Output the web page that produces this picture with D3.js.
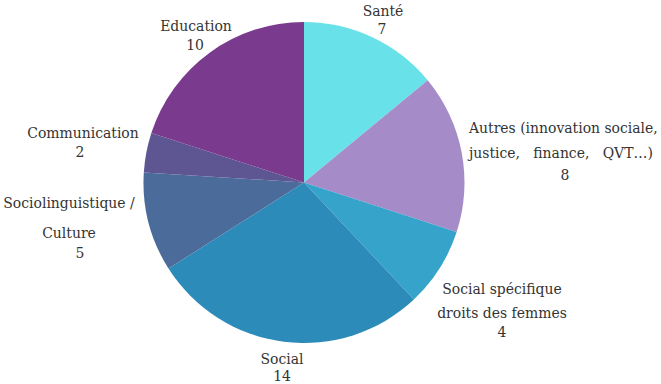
<!DOCTYPE html>
<html>
<head>
<meta charset="utf-8">
<script src="https://cdn.jsdelivr.net/npm/d3@7"></script>
<style>
  body { margin: 0; background: #fff; }
</style>
</head>
<body>
<div id="caja"></div>
<script>
// donnees du graphique
var categories = ["Santé", "Autres", "Social spécifique", "Social", "Sociolinguistique", "Communication", "Education"];
var valeurs    = [7, 8, 4, 14, 5, 2, 10];
var couleurs   = ["#68e2e8", "#a68bc9", "#35a3ca", "#2d8bb9", "#4b6c9b", "#5e5693", "#7a3a8e"];
// lignes des etiquettes (la valeur est ajoutee dessous)
var etiquettes = [
  ["Santé"],
  ["Autres (innovation sociale,", "justice,   finance,   QVT…)"],
  ["Social spécifique", "droits des femmes"],
  ["Social"],
  ["Sociolinguistique /", "Culture"],
  ["Communication"],
  ["Education"]
];

var w = 661, h = 384;
var cx = 304, cy = 182.5, r = 160.5;
var police = "DejaVu Serif";

// placement des etiquettes : x, y premiere ligne, interligne, ancrage, position valeur
var place = [
  {x: 383, y: 16,  dy: 24, anchor: "middle", vx: 382, vy: 34},
  {x: 469, y: 133, dy: 25, anchor: "start",  vx: 565, vy: 180},
  {x: 502, y: 294, dy: 24, anchor: "middle", vx: 502, vy: 337},
  {x: 282, y: 364, dy: 24, anchor: "middle", vx: 282, vy: 381},
  {x: 69,  y: 208, dy: 30, anchor: "middle", vx: 80,  vy: 258},
  {x: 83,  y: 138, dy: 24, anchor: "middle", vx: 80,  vy: 157},
  {x: 196, y: 31,  dy: 24, anchor: "middle", vx: 195, vy: 50}
];

var chart = d3.select('#caja')
  .append('svg')
  .attr('width', w)
  .attr('height', h);

var pie = d3.pie().sort(null).value(function(d) { return d; });
var arc = d3.arc().innerRadius(0).outerRadius(r);

var g = chart.append("g").attr("transform", "translate(" + cx + "," + cy + ")");

g.selectAll("path")
  .data(pie(valeurs))
  .enter()
  .append("path")
  .attr("d", arc)
  .style("fill", function(d, i) { return couleurs[i]; });

// textes
var lab = chart.append("g").selectAll("g")
  .data(categories)
  .enter()
  .append("g");

lab.each(function(c, i) {
  var p = place[i];
  var sel = d3.select(this);
  etiquettes[i].forEach(function(l, k) {
    sel.append("text")
      .attr("x", p.x)
      .attr("y", p.y + k * p.dy)
      .attr("text-anchor", p.anchor)
      .attr("font-family", police)
      .attr("font-size", 15.5)
      .attr("fill", "#333")
      .style("font-stretch", "condensed")
      .style("white-space", "pre")
      .text(l);
  });
  sel.append("text")
    .attr("x", p.vx)
    .attr("y", p.vy)
    .attr("text-anchor", "middle")
    .attr("font-family", police)
    .attr("font-size", 15.5)
    .attr("fill", "#333")
    .style("font-stretch", "condensed")
    .text(valeurs[i]);
});
</script>
</body>
</html>
